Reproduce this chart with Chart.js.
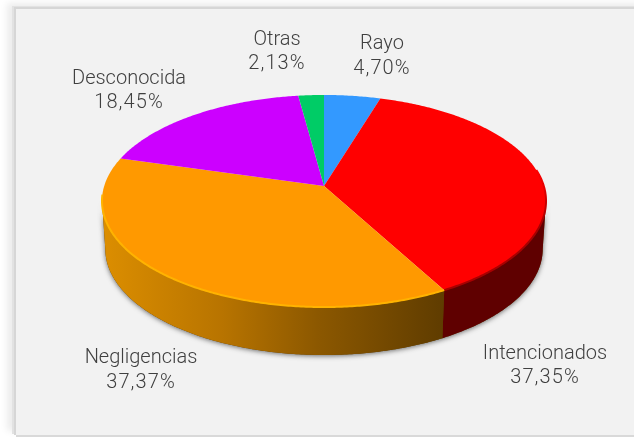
<!DOCTYPE html>
<html lang="es">
<head>
  <meta charset="UTF-8">
  <title>Causas de incendios</title>
  <style>
    html, body { margin: 0; padding: 0; width: 634px; height: 438px; overflow: hidden; background: #ffffff; }
    #panel {
      position: absolute; left: 16px; top: 9px; width: 640px; height: 426px;
      background: #f2f2f2; border-bottom: 2px solid #d9d9d9;
      box-shadow: -2px -2px 0 #d6d6d6, -4px -3px 0 #e2e2e2, -9px -6px 7px #ececec;
    }
    #chart { position: absolute; left: 0; top: 0; }
  </style>
</head>
<body>
  <div id="panel"></div>
  <canvas id="chart" width="634" height="438"></canvas>

  <script src="https://cdn.jsdelivr.net/npm/chart.js"></script>
  <script>
    // Values, clockwise from the top
    var categories = ['Rayo', 'Intencionados', 'Negligencias', 'Desconocida', 'Otras'];
    var percentages = [4.70, 37.35, 37.37, 18.45, 2.13];
    var sliceColors = ['#3399ff', '#ff0000', '#ff9900', '#cc00ff', '#00cc66'];
    var rimColors = ['#3399ff', '#a80000', '#ffb300', '#cc00ff', '#00cc66'];

    // Label centres on the canvas, same order as categories
    var labelX = [382, 545, 141, 129, 277];
    var labelY = [56.5, 366, 370.5, 91, 52];

    // Tilted disc: horizontal and vertical reach (times the chart radius), perspective and wall depth
    var spreadX = 1.98, spreadY = 0.936, perspective = -0.1415, wallDepth = 48, wallShrink = 0.985;

    function project(arc, angle, isBottom) {
      var r = arc.outerRadius;
      var d = 1 + perspective * Math.sin(angle);
      var x = spreadX * r * Math.cos(angle) / d;
      var y = spreadY * r * Math.sin(angle) / d;
      if (isBottom) return { x: arc.x + x * wallShrink, y: arc.y + y + wallDepth };
      return { x: arc.x + x, y: arc.y + y };
    }

    function traceRim(ctx, arc, from, to, isBottom, moveFirst) {
      var steps = Math.max(2, Math.ceil(Math.abs(to - from) / 0.01));
      for (var i = 0; i <= steps; i++) {
        var p = project(arc, from + (to - from) * i / steps, isBottom);
        if (i === 0 && moveFirst) ctx.moveTo(p.x, p.y);
        else ctx.lineTo(p.x, p.y);
      }
    }

    function wallFill(ctx, index, x0, x1) {
      if (categories[index] === 'Negligencias') {
        var g = ctx.createLinearGradient(x0, 0, x1, 0);
        g.addColorStop(0, '#dc8e00');
        g.addColorStop(0.35, '#b87400');
        g.addColorStop(0.63, '#8c5800');
        g.addColorStop(1, '#5f3c00');
        return g;
      }
      return '#5f0000';
    }

    // Draws the pie from the angles Chart.js worked out for each arc
    var tiltedPie = {
      id: 'tiltedPie',
      beforeDatasetDraw: function(chart) {
        var ctx = chart.ctx;
        var arcs = chart.getDatasetMeta(0).data;
        var edge = Math.asin(-perspective);
        var frontStart = edge, frontEnd = Math.PI - edge;

        ctx.save();

        // soft shadow round the wall
        ctx.save();
        ctx.shadowColor = 'rgba(60,60,60,0.75)';
        ctx.shadowBlur = 5;
        ctx.shadowOffsetX = 0;
        ctx.shadowOffsetY = 1;
        ctx.fillStyle = '#5f3c00';
        ctx.beginPath();
        traceRim(ctx, arcs[0], frontStart, frontEnd, true, true);
        traceRim(ctx, arcs[0], frontEnd, frontStart, false, false);
        ctx.closePath();
        ctx.fill();
        ctx.restore();

        // walls
        arcs.forEach(function(arc, i) {
          var a = Math.max(arc.startAngle, frontStart);
          var b = Math.min(arc.endAngle, frontEnd);
          if (b <= a) return;
          var left = project(arc, b, false).x, right = project(arc, a, false).x;
          ctx.fillStyle = wallFill(ctx, i, left, right);
          ctx.beginPath();
          traceRim(ctx, arc, a, b, false, true);
          traceRim(ctx, arc, b, a, true, false);
          ctx.closePath();
          ctx.fill();
        });

        // top faces
        arcs.forEach(function(arc, i) {
          ctx.fillStyle = sliceColors[i];
          ctx.beginPath();
          ctx.moveTo(arc.x, arc.y);
          traceRim(ctx, arc, arc.startAngle, arc.endAngle, false, false);
          ctx.closePath();
          ctx.fill();
        });

        // bevel along the front edge of the top, fading in where it comes round the side
        ctx.lineWidth = 2;
        arcs.forEach(function(arc, i) {
          var a = Math.max(arc.startAngle, frontStart - 0.3);
          var b = Math.min(arc.endAngle, frontEnd + 0.06);
          if (b <= a) return;
          var stroke = rimColors[i];
          if (a < frontStart) {
            stroke = ctx.createLinearGradient(0, project(arc, a, false).y, 0, project(arc, frontStart + 0.2, false).y);
            stroke.addColorStop(0, sliceColors[i]);
            stroke.addColorStop(1, rimColors[i]);
          }
          ctx.strokeStyle = stroke;
          ctx.beginPath();
          traceRim(ctx, arc, a, b, false, true);
          ctx.stroke();
        });

        ctx.restore();
        return false;
      },
      afterDatasetsDraw: function(chart) {
        var ctx = chart.ctx;
        ctx.save();
        ctx.font = '300 20px Roboto';
        ctx.fillStyle = '#404040';
        ctx.textAlign = 'center';
        ctx.textBaseline = 'middle';
        categories.forEach(function(name, i) {
          ctx.letterSpacing = '0px';
          ctx.fillText(name, labelX[i], labelY[i] - 12.5);
          // the numbers sit wider than Roboto sets them
          ctx.letterSpacing = '1.1px';
          ctx.fillText(percentages[i].toFixed(2).replace('.', ',') + '%', labelX[i], labelY[i] + 12);
        });
        ctx.restore();
      }
    };

    new Chart(document.getElementById('chart').getContext('2d'), {
      type: 'pie',
      data: {
        labels: categories,
        datasets: [{ data: percentages, backgroundColor: sliceColors, borderWidth: 0 }]
      },
      options: {
        responsive: false,
        animation: false,
        // puts the centre of the pie at the apex of the slices
        layout: { padding: { left: 114, right: 100, top: 75, bottom: 141 } },
        plugins: { legend: { display: false }, tooltip: { enabled: false } }
      },
      plugins: [tiltedPie]
    });
  </script>
</body>
</html>
